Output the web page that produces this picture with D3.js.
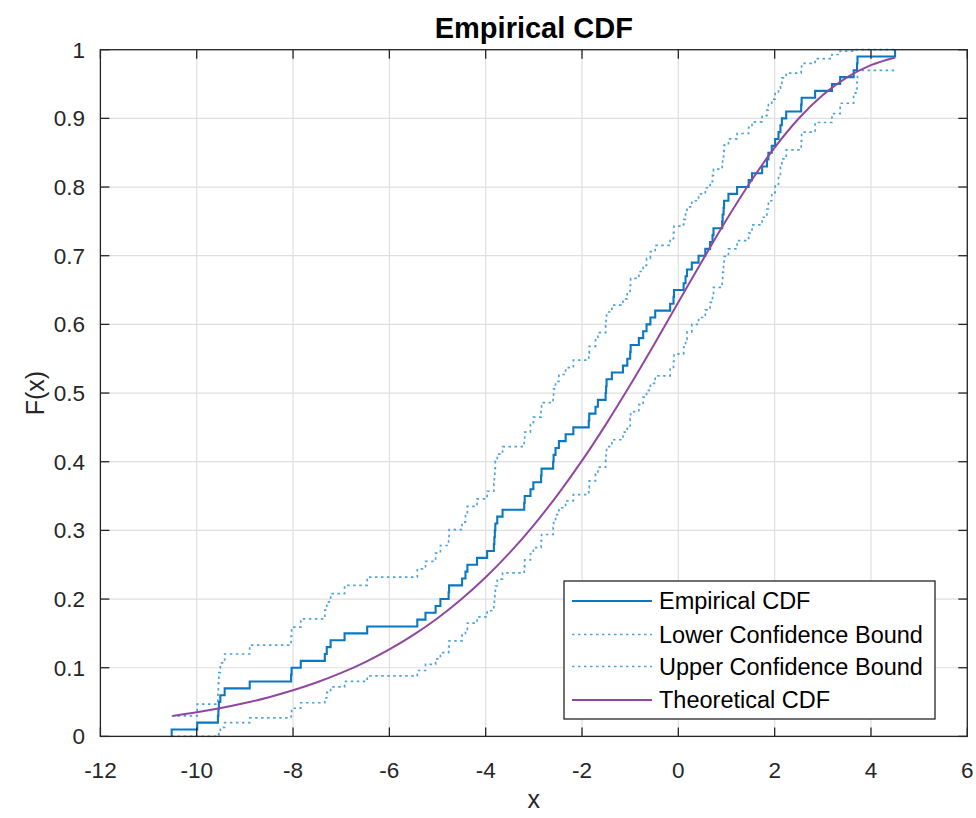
<!DOCTYPE html>
<html>
<head>
<meta charset="utf-8">
<script src="https://cdn.jsdelivr.net/npm/d3@7/dist/d3.min.js"></script>
<style>
  html, body { margin: 0; padding: 0; background: #ffffff; }
  svg { display: block; font-family: "Liberation Sans", Arial, Helvetica, sans-serif; }
</style>
</head>
<body>
<svg id="chart" width="976" height="818"></svg>
<script>
// ---- Data ----
const sampleX = [
  -10.52, -9.99, -9.56, -9.55, -9.54, -9.51, -9.42, -8.90, -8.04, -8.03,
  -7.84, -7.34, -7.30, -7.22, -6.93, -6.46, -5.42, -5.25, -5.04, -4.94,
  -4.77, -4.76, -4.49, -4.42, -4.38, -4.18, -3.97, -3.83, -3.82, -3.81,
  -3.80, -3.76, -3.65, -3.20, -3.19, -3.07, -3.01, -2.85, -2.84, -2.60,
  -2.59, -2.55, -2.48, -2.34, -2.18, -1.86, -1.85, -1.72, -1.67, -1.51,
  -1.50, -1.49, -1.38, -1.15, -1.06, -1.00, -0.99, -0.82, -0.73, -0.66,
  -0.58, -0.48, -0.17, -0.10, -0.09, 0.11, 0.15, 0.18, 0.28, 0.42,
  0.56, 0.66, 0.71, 0.73, 0.91, 0.92, 0.94, 0.95, 1.04, 1.22,
  1.46, 1.53, 1.74, 1.84, 1.87, 1.94, 2.01, 2.08, 2.12, 2.15,
  2.24, 2.55, 2.56, 2.84, 3.19, 3.36, 3.64, 3.71, 3.72, 4.50
];
const ecdfF = [
  0.01, 0.02, 0.03, 0.04, 0.05, 0.06, 0.07, 0.08, 0.09, 0.10,
  0.11, 0.12, 0.13, 0.14, 0.15, 0.16, 0.17, 0.18, 0.19, 0.20,
  0.21, 0.22, 0.23, 0.24, 0.25, 0.26, 0.27, 0.28, 0.29, 0.30,
  0.31, 0.32, 0.33, 0.34, 0.35, 0.36, 0.37, 0.38, 0.39, 0.40,
  0.41, 0.42, 0.43, 0.44, 0.45, 0.46, 0.47, 0.48, 0.49, 0.50,
  0.51, 0.52, 0.53, 0.54, 0.55, 0.56, 0.57, 0.58, 0.59, 0.60,
  0.61, 0.62, 0.63, 0.64, 0.65, 0.66, 0.67, 0.68, 0.69, 0.70,
  0.71, 0.72, 0.73, 0.74, 0.75, 0.76, 0.77, 0.78, 0.79, 0.80,
  0.81, 0.82, 0.83, 0.84, 0.85, 0.86, 0.87, 0.88, 0.89, 0.90,
  0.91, 0.92, 0.93, 0.94, 0.95, 0.96, 0.97, 0.98, 0.99, 1.00
];
const lowerBound = [
  0, 0, 0, 0.002, 0.007, 0.013, 0.020, 0.027, 0.034, 0.041,
  0.049, 0.056, 0.064, 0.072, 0.080, 0.088, 0.096, 0.105, 0.113, 0.122,
  0.130, 0.139, 0.148, 0.156, 0.165, 0.174, 0.183, 0.192, 0.201, 0.210,
  0.219, 0.229, 0.238, 0.247, 0.257, 0.266, 0.275, 0.285, 0.294, 0.304,
  0.314, 0.323, 0.333, 0.343, 0.352, 0.362, 0.372, 0.382, 0.392, 0.402,
  0.412, 0.422, 0.432, 0.443, 0.452, 0.463, 0.473, 0.483, 0.494, 0.504,
  0.514, 0.525, 0.535, 0.546, 0.557, 0.567, 0.578, 0.589, 0.600, 0.610,
  0.621, 0.632, 0.643, 0.654, 0.665, 0.676, 0.688, 0.699, 0.710, 0.722,
  0.733, 0.745, 0.756, 0.768, 0.780, 0.792, 0.804, 0.816, 0.829, 0.841,
  0.854, 0.867, 0.880, 0.894, 0.907, 0.922, 0.937, 0.953, 0.970
];
const upperBound = [
  0.030, 0.047, 0.063, 0.078, 0.093, 0.107, 0.120, 0.133, 0.146, 0.159,
  0.171, 0.184, 0.196, 0.208, 0.220, 0.232, 0.244, 0.255, 0.267, 0.278,
  0.290, 0.301, 0.312, 0.324, 0.335, 0.346, 0.357, 0.368, 0.379, 0.390,
  0.401, 0.411, 0.422, 0.433, 0.443, 0.454, 0.465, 0.475, 0.486, 0.496,
  0.506, 0.517, 0.527, 0.537, 0.548, 0.558, 0.568, 0.578, 0.588, 0.598,
  0.608, 0.618, 0.628, 0.637, 0.648, 0.657, 0.667, 0.677, 0.686, 0.696,
  0.706, 0.715, 0.725, 0.734, 0.743, 0.753, 0.762, 0.771, 0.780, 0.790,
  0.799, 0.808, 0.817, 0.826, 0.835, 0.844, 0.852, 0.861, 0.870, 0.878,
  0.887, 0.895, 0.904, 0.912, 0.920, 0.928, 0.936, 0.944, 0.951, 0.959,
  0.966, 0.973, 0.980, 0.987, 0.993, 0.998, 1, 1, 1
];
const theoryX = [
  -10.5, -10, -9.5, -9, -8.5, -8, -7.5, -7, -6.5, -6, -5.5, -5, -4.5, -4, -3.5, -3,
  -2.5, -2, -1.5, -1, -0.5, 0, 0.5, 1, 1.5, 2, 2.5, 3, 3.5, 4, 4.5
];
const theoryF = [
  0.0298, 0.0351, 0.0413, 0.0486, 0.0571, 0.0671, 0.0788, 0.0924, 0.1082, 0.1266,
  0.1478, 0.1721, 0.2000, 0.2317, 0.2676, 0.3078, 0.3525, 0.4015, 0.4548, 0.5116,
  0.5711, 0.6321, 0.6931, 0.7523, 0.8077, 0.8574, 0.8998, 0.9340, 0.9597, 0.9775, 0.9887
];
const xTickValues = [-12, -10, -8, -6, -4, -2, 0, 2, 4, 6];
const xTickLabels = ["-12", "-10", "-8", "-6", "-4", "-2", "0", "2", "4", "6"];
const yTickValues = [0, 0.1, 0.2, 0.3, 0.4, 0.5, 0.6, 0.7, 0.8, 0.9, 1];
const yTickLabels = ["0", "0.1", "0.2", "0.3", "0.4", "0.5", "0.6", "0.7", "0.8", "0.9", "1"];
const legendLabels = ["Empirical CDF", "Lower Confidence Bound", "Upper Confidence Bound", "Theoretical CDF"];
const titleText = "Empirical CDF";
const xLabelText = "x";
const yLabelText = "F(x)";

// ---- Layout ----
const plot = { left: 100.4, right: 967.3, top: 49.7, bottom: 736.4 };
const axisColor = "#262626";
const gridColor = "#dfdfdf";
const ecdfColor = "#0a77c2";
const boundColor = "#4fa3dc";
const theoryColor = "#9147a2";

const svg = d3.select("#chart");
svg.append("rect").attr("width", 976).attr("height", 818).attr("fill", "#ffffff");

const x = d3.scaleLinear().domain([-12, 6]).range([plot.left, plot.right]);
const y = d3.scaleLinear().domain([0, 1]).range([plot.bottom, plot.top]);
const W = plot.right - plot.left, H = plot.bottom - plot.top;

// grid
const grid = svg.append("g");
grid.selectAll("line.gx").data(xTickValues).join("line")
  .attr("x1", d => x(d)).attr("x2", d => x(d))
  .attr("y1", plot.top).attr("y2", plot.bottom)
  .attr("stroke", gridColor).attr("stroke-width", 1.2);
grid.selectAll("line.gy").data(yTickValues).join("line")
  .attr("y1", d => y(d)).attr("y2", d => y(d))
  .attr("x1", plot.left).attr("x2", plot.right)
  .attr("stroke", gridColor).attr("stroke-width", 1.2);

// data layers
svg.append("defs").append("clipPath").attr("id", "clip")
  .append("rect").attr("x", plot.left - 1).attr("y", plot.top - 2).attr("width", W + 2).attr("height", H + 3);
const layer = svg.append("g").attr("clip-path", "url(#clip)");

const stepLine = d3.line().x(d => x(d[0])).y(d => y(d[1])).curve(d3.curveStepAfter);

const ecdfPts = [[sampleX[0], 0]].concat(sampleX.map((v, i) => [v, ecdfF[i]]));
const loPts = lowerBound.map((v, i) => [sampleX[i], v]).concat([[sampleX[sampleX.length - 1], lowerBound[lowerBound.length - 1]]]);
const upPts = upperBound.map((v, i) => [sampleX[i], v]).concat([[sampleX[sampleX.length - 1], upperBound[upperBound.length - 1]]]);

layer.append("path").datum(loPts).attr("d", stepLine)
  .attr("fill", "none").attr("stroke", boundColor).attr("stroke-width", 1.7)
  .attr("stroke-dasharray", "2.5,3.5");
layer.append("path").datum(upPts).attr("d", stepLine)
  .attr("fill", "none").attr("stroke", boundColor).attr("stroke-width", 1.7)
  .attr("stroke-dasharray", "2.5,3.5");
layer.append("path").datum(ecdfPts).attr("d", stepLine)
  .attr("fill", "none").attr("stroke", ecdfColor).attr("stroke-width", 2.1);

const theoryLine = d3.line().x(d => x(d[0])).y(d => y(d[1])).curve(d3.curveMonotoneX);
layer.append("path").datum(theoryX.map((v, i) => [v, theoryF[i]])).attr("d", theoryLine)
  .attr("fill", "none").attr("stroke", theoryColor).attr("stroke-width", 2);

// axes box + ticks
const axes = svg.append("g");
axes.append("rect").attr("x", plot.left).attr("y", plot.top).attr("width", W).attr("height", H)
  .attr("fill", "none").attr("stroke", axisColor).attr("stroke-width", 1.3);
const tl = 9;
xTickValues.forEach(v => {
  axes.append("line").attr("x1", x(v)).attr("x2", x(v)).attr("y1", plot.bottom).attr("y2", plot.bottom - tl).attr("stroke", axisColor).attr("stroke-width", 1.3);
  axes.append("line").attr("x1", x(v)).attr("x2", x(v)).attr("y1", plot.top).attr("y2", plot.top + tl).attr("stroke", axisColor).attr("stroke-width", 1.3);
});
yTickValues.forEach(v => {
  axes.append("line").attr("y1", y(v)).attr("y2", y(v)).attr("x1", plot.left).attr("x2", plot.left + tl).attr("stroke", axisColor).attr("stroke-width", 1.3);
  axes.append("line").attr("y1", y(v)).attr("y2", y(v)).attr("x1", plot.right).attr("x2", plot.right - tl).attr("stroke", axisColor).attr("stroke-width", 1.3);
});

// tick labels
const tickFont = 22.5;
svg.append("g").selectAll("text").data(xTickValues).join("text")
  .attr("x", d => x(d)).attr("y", 778)
  .attr("text-anchor", "middle").attr("font-size", tickFont).attr("fill", axisColor)
  .text((d, i) => xTickLabels[i]);
svg.append("g").selectAll("text").data(yTickValues).join("text")
  .attr("x", 85).attr("y", d => y(d) + 8)
  .attr("text-anchor", "end").attr("font-size", tickFont).attr("fill", axisColor)
  .text((d, i) => yTickLabels[i]);

// title & labels
svg.append("text").attr("x", (plot.left + plot.right) / 2).attr("y", 38)
  .attr("text-anchor", "middle").attr("font-size", 29).attr("font-weight", "bold").attr("fill", "#000")
  .text(titleText);
svg.append("text").attr("x", (plot.left + plot.right) / 2).attr("y", 808)
  .attr("text-anchor", "middle").attr("font-size", 25).attr("fill", axisColor)
  .text(xLabelText);
svg.append("text").attr("transform", `translate(44,${(plot.top + plot.bottom) / 2}) rotate(-90)`)
  .attr("text-anchor", "middle").attr("font-size", 25).attr("fill", axisColor)
  .text(yLabelText);

// legend
const leg = svg.append("g");
leg.append("rect").attr("x", 564).attr("y", 581).attr("width", 371).attr("height", 138)
  .attr("fill", "#ffffff").attr("stroke", axisColor).attr("stroke-width", 1.3);
const legY = [601, 634.5, 666.5, 700];
const legStyles = [
  { c: ecdfColor, w: 2.1, dash: null },
  { c: boundColor, w: 1.7, dash: "2.5,3.5" },
  { c: boundColor, w: 1.7, dash: "2.5,3.5" },
  { c: theoryColor, w: 2, dash: null }
];
legendLabels.forEach((lab, i) => {
  const s = legStyles[i];
  const ln = leg.append("line").attr("x1", 572).attr("x2", 652).attr("y1", legY[i]).attr("y2", legY[i])
    .attr("stroke", s.c).attr("stroke-width", s.w);
  if (s.dash) ln.attr("stroke-dasharray", s.dash);
  leg.append("text").attr("x", 659).attr("y", legY[i] + 8.3)
    .attr("font-size", 23.5).attr("fill", "#000").text(lab);
});
</script>
</body>
</html>
